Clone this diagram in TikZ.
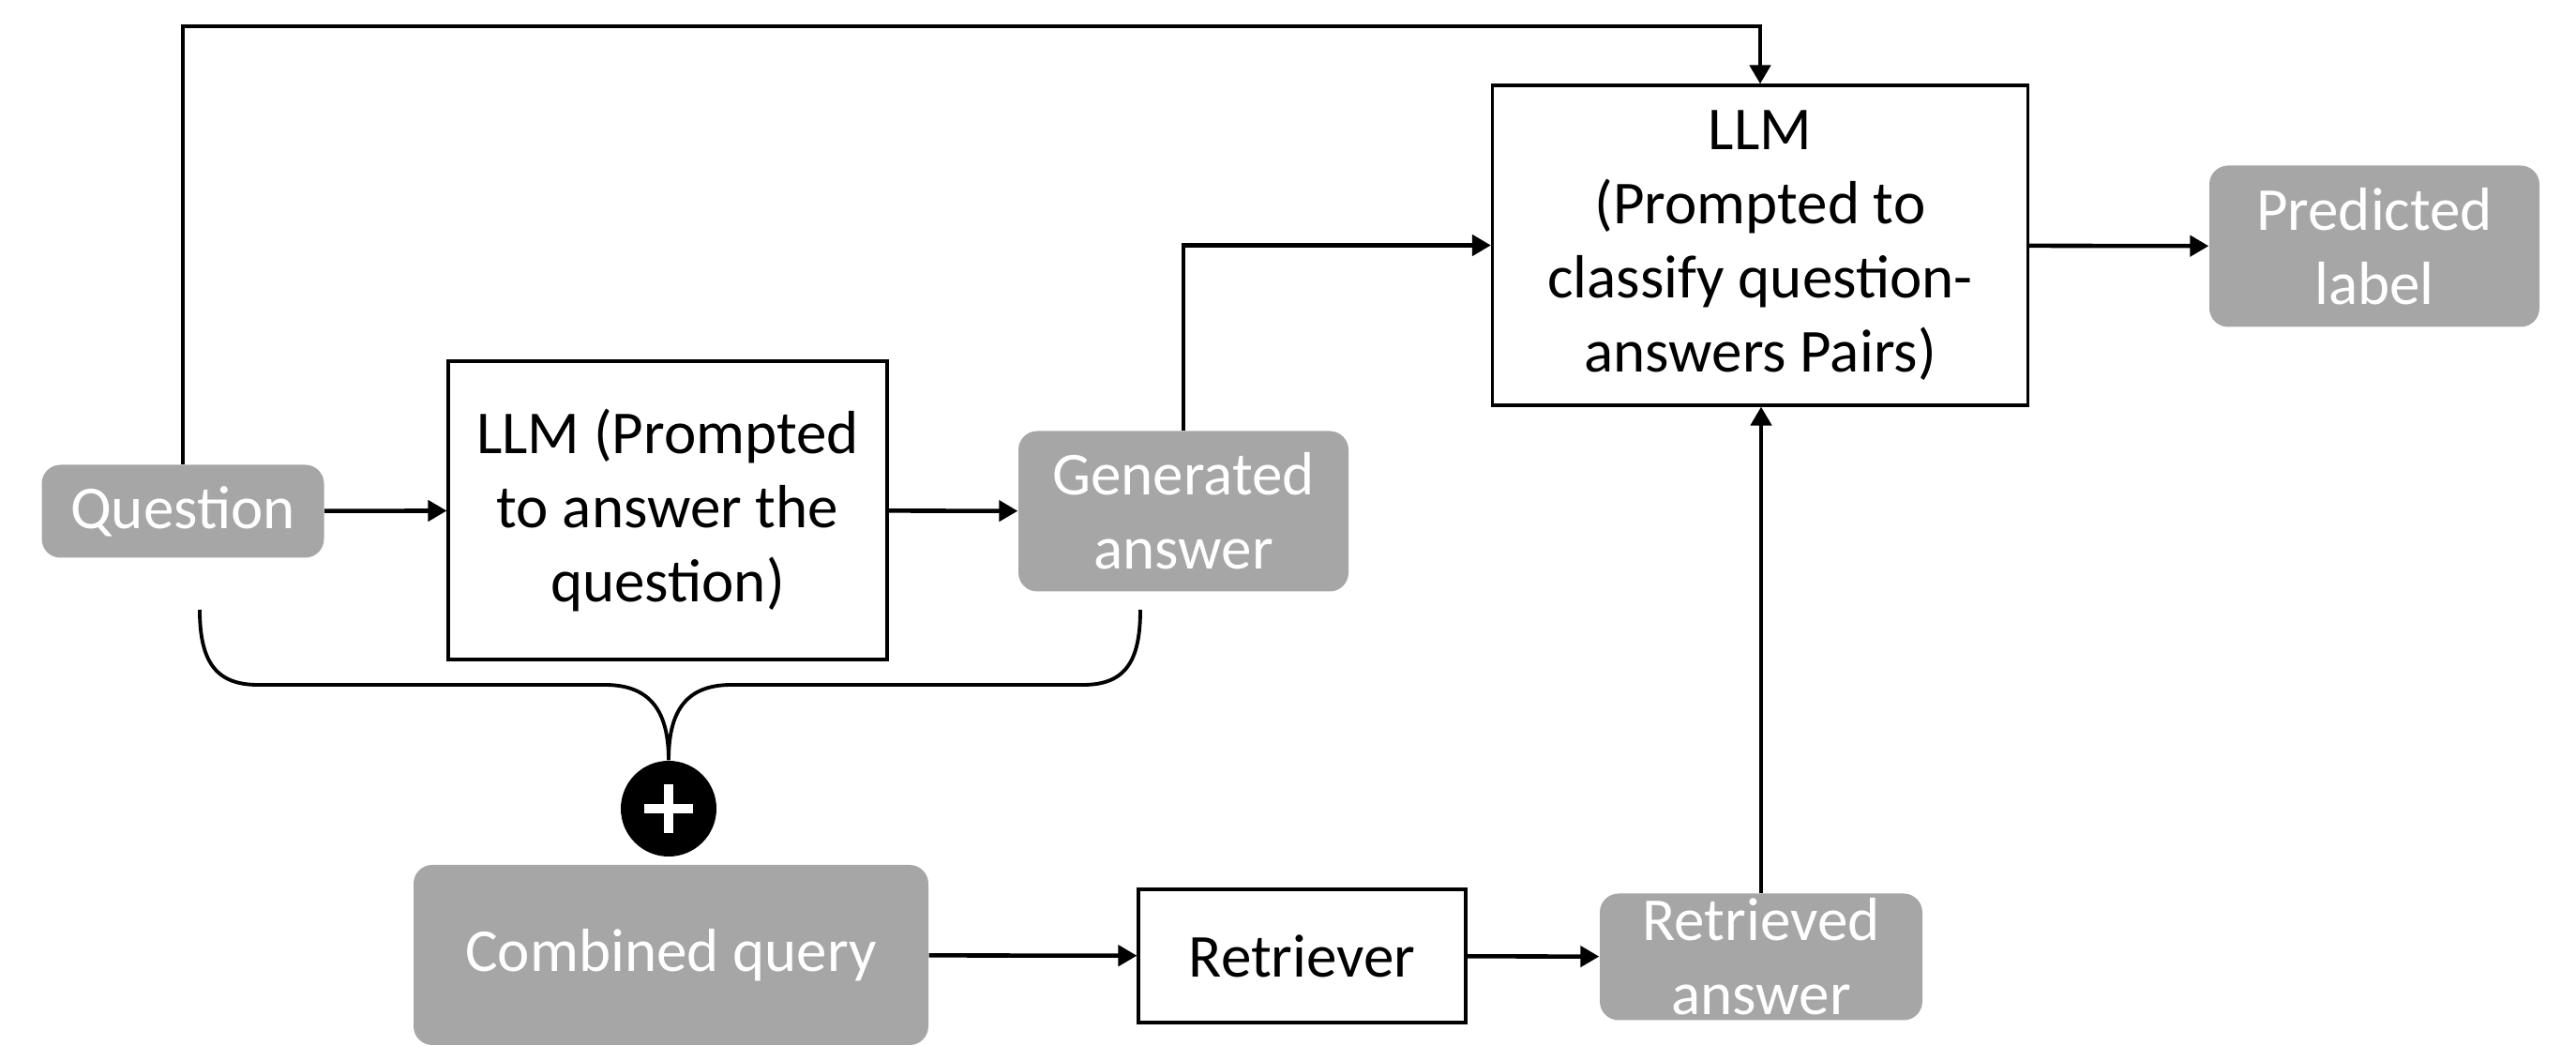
\documentclass[tikz,border=0pt]{standalone}
\usepackage{fontspec}
\setmainfont{Carlito}
\usetikzlibrary{arrows.meta,positioning,calc}
\definecolor{boxgray}{HTML}{A6A6A6}

\begin{document}
\begin{tikzpicture}[
    font=\fontsize{18.5}{22.5}\selectfont,
    grayblock/.style={fill=boxgray, text=white, rounded corners=0.2cm, align=center, inner sep=0pt},
    llmblock/.style={draw, line width=0.9pt, fill=white, align=center, inner sep=0pt},
    flow/.style={line width=1.3pt, -{Triangle[length=0.2cm, width=0.22cm]}}
  ]
  \useasboundingbox (0, 0) rectangle (27.47, -11.15);

  % Question
  \node[grayblock, minimum width=3.01cm, minimum height=0.99cm] (question) at (1.95, -5.45) {Question};
  % LLM answering the question
  \node[llmblock, minimum width=4.68cm, minimum height=3.18cm] (answerllm) at (7.12, -5.44)
    {LLM (Prompted\\to answer the\\question)};
  % Generated answer
  \node[grayblock, minimum width=3.52cm, minimum height=1.71cm] (generated) at (12.62, -5.45)
    {Generated\\answer};
  % LLM classifying the pairs
  \node[llmblock, minimum width=5.71cm, minimum height=3.41cm] (classifyllm) at (18.77, -2.615)
    {LLM\\(Prompted to\\classify question-\\answers Pairs)};
  % Predicted label
  \node[grayblock, minimum width=3.52cm, minimum height=1.72cm] (predicted) at (25.32, -2.625)
    {Predicted\\label};
  % Combined query
  \node[grayblock, minimum width=5.49cm, minimum height=1.92cm] (combined) at (7.155, -10.18)
    {Combined query};
  % Retriever
  \node[llmblock, minimum width=3.49cm, minimum height=1.42cm] (retriever) at (13.885, -10.19)
    {Retriever};
  % Retrieved answer
  \node[grayblock, minimum width=3.44cm, minimum height=1.35cm] (retrieved) at (18.78, -10.2)
    {Retrieved\\answer};
  % Plus
  \node[circle, fill=black, minimum size=1.02cm, inner sep=0pt] (plus) at (7.13, -8.62) {};
  \draw[white, line width=0.1cm] (plus.center) ++(-0.26, 0) -- ++(0.52, 0);
  \draw[white, line width=0.1cm] (plus.center) ++(0, -0.26) -- ++(0, 0.52);

  % Arrows
  \coordinate (topline) at (0, -0.28);
  \draw[flow] (question.north) |- (topline -| classifyllm.north) -- (classifyllm.north);
  \draw[flow] (question) -- (answerllm);
  \draw[flow] (answerllm) -- (generated);
  \draw[flow] (generated.north) |- (classifyllm.west);
  \draw[flow] (classifyllm) -- (predicted);
  \draw[flow] (combined) -- (retriever);
  \draw[flow] (retriever) -- (retrieved);
  \draw[flow] (retrieved.north) -- (retrieved.north |- classifyllm.south);

  % Brace
  \coordinate (braceleft) at (2.13, -6.50);
  \coordinate (braceright) at (12.16, -6.50);
  \draw[line width=1.1pt]
    (braceleft) .. controls (2.13, -7.05) and (2.3, -7.30) .. (2.75, -7.30)
      -- (6.45, -7.30) .. controls (6.95, -7.30) and (7.13, -7.6) .. (plus.north)
      .. controls (7.13, -7.6) and (7.3, -7.30) .. (7.8, -7.30)
      -- (11.55, -7.30) .. controls (12.0, -7.30) and (12.16, -7.05) .. (braceright);
\end{tikzpicture}
\end{document}
